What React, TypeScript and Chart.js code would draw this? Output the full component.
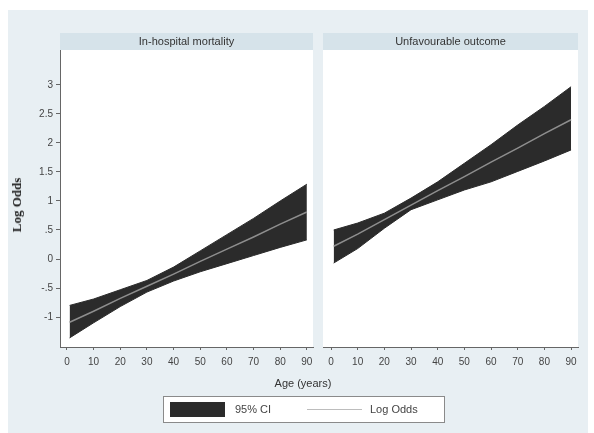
import React, { useEffect, useRef } from "react";
import { Chart, registerables } from "chart.js";
Chart.register(...registerables);

// ---- data ----
const ages = [1, 10, 20, 30, 40, 50, 60, 70, 80, 90];
const mortalityLogOdds = [-1.09, -0.9, -0.68, -0.47, -0.26, -0.04, 0.17, 0.38, 0.6, 0.81];
const mortalityUpper = [-0.8, -0.69, -0.53, -0.37, -0.14, 0.14, 0.42, 0.7, 1.0, 1.29];
const mortalityLower = [-1.36, -1.1, -0.82, -0.57, -0.38, -0.22, -0.08, 0.06, 0.2, 0.33];
const outcomeLogOdds = [0.22, 0.43, 0.68, 0.93, 1.18, 1.42, 1.67, 1.91, 2.16, 2.4];
const outcomeUpper = [0.5, 0.62, 0.79, 1.05, 1.33, 1.65, 1.97, 2.31, 2.63, 2.97];
const outcomeLower = [-0.07, 0.18, 0.53, 0.85, 1.02, 1.19, 1.33, 1.51, 1.69, 1.88];

const xTicks = [0, 10, 20, 30, 40, 50, 60, 70, 80, 90];
const yTicks = [-1, -0.5, 0, 0.5, 1, 1.5, 2, 2.5, 3];
const yTickLabels = ["-1", "-.5", "0", ".5", "1", "1.5", "2", "2.5", "3"];
const panelTitles = ["In-hospital mortality", "Unfavourable outcome"];
const legendLabels = ["95% CI", "Log Odds"];
const xTitle = "Age (years)";
const yTitle = "Log Odds";

const BAND = "#2b2b2b";
const LINE = "#8e8e8e";
const HEADER = "#d6e3ea";
const OUTER = "#e8eff3";
const AXIS = "#666666";
const TEXT = "#444444";
const SANS = "'Liberation Sans', Arial, sans-serif";

type PanelProps = {
  left: number;
  width: number;
  title: string;
  mid: number[];
  upper: number[];
  lower: number[];
  xMin: number;
  xMax: number;
  showY: boolean;
  padding: { left: number; right: number; top: number; bottom: number };
};

const toPts = (vals: number[]) => vals.map((v, i) => ({ x: ages[i], y: v }));

function Panel(p: PanelProps) {
  const ref = useRef<HTMLCanvasElement | null>(null);
  useEffect(() => {
    if (!ref.current) return;
    const panelPlugin = {
      id: "panelBg",
      beforeDraw(chart: any) {
        const { ctx, chartArea } = chart;
        ctx.save();
        ctx.fillStyle = "#ffffff";
        ctx.fillRect(chartArea.left, chartArea.top, chartArea.right - chartArea.left, chartArea.bottom - chartArea.top);
        ctx.fillStyle = HEADER;
        ctx.fillRect(chartArea.left, chartArea.top - 17, chartArea.right - chartArea.left, 17);
        ctx.fillStyle = "#333333";
        ctx.font = `11px ${SANS}`;
        ctx.textAlign = "center";
        ctx.textBaseline = "middle";
        ctx.fillText(p.title, (chartArea.left + chartArea.right) / 2, chartArea.top - 8.5);
        ctx.restore();
      },
    };
    const chart = new Chart(ref.current, {
      type: "line",
      data: {
        datasets: [
          {
            label: "upper",
            data: toPts(p.upper),
            borderColor: BAND,
            backgroundColor: BAND,
            borderWidth: 1,
            pointRadius: 0,
            fill: "+1",
            order: 1,
          },
          {
            label: "lower",
            data: toPts(p.lower),
            borderColor: BAND,
            backgroundColor: BAND,
            borderWidth: 1,
            pointRadius: 0,
            fill: false,
            order: 2,
          },
          {
            label: "mid",
            data: toPts(p.mid),
            borderColor: LINE,
            borderWidth: 1.5,
            pointRadius: 0,
            fill: false,
            order: 0,
          },
        ],
      },
      options: {
        responsive: false,
        animation: false,
        layout: { padding: p.padding },
        plugins: { legend: { display: false }, tooltip: { enabled: false } },
        scales: {
          x: {
            type: "linear",
            min: p.xMin,
            max: p.xMax,
            afterBuildTicks: (s: any) => {
              s.ticks = xTicks.map((v) => ({ value: v }));
            },
            afterFit: (s: any) => {
              s.height = 30;
              s.paddingLeft = 0;
              s.paddingRight = 0;
            },
            grid: { display: true, drawOnChartArea: false, drawTicks: true, tickLength: 3, color: AXIS },
            border: { display: true, color: AXIS, width: 1 },
            ticks: {
              padding: 6,
              maxRotation: 0,
              autoSkip: false,
              color: TEXT,
              font: { size: 10, family: SANS },
              callback: (v: any) => String(v),
            },
          },
          y: {
            type: "linear",
            display: p.showY,
            min: -1.517,
            max: 3.603,
            afterBuildTicks: (s: any) => {
              s.ticks = yTicks.map((v) => ({ value: v }));
            },
            afterFit: (s: any) => {
              if (p.showY) s.width = 60;
              s.paddingTop = 0;
              s.paddingBottom = 0;
            },
            grid: { display: true, drawOnChartArea: false, drawTicks: true, tickLength: 4, color: AXIS },
            border: { display: true, color: AXIS, width: 1 },
            ticks: {
              padding: 3,
              autoSkip: false,
              color: TEXT,
              font: { size: 10, family: SANS },
              callback: (v: any) => {
                const i = yTicks.indexOf(Number(v));
                return i >= 0 ? yTickLabels[i] : "";
              },
            },
          },
        },
      },
      plugins: [panelPlugin],
    });
    return () => chart.destroy();
  }, []);
  return (
    <canvas
      ref={ref}
      width={p.width}
      height={433}
      style={{ position: "absolute", left: p.left, top: 0, width: p.width, height: 433 }}
    />
  );
}

export default function App() {
  return (
    <div style={{ position: "absolute", left: 0, top: 0, width: 594, height: 433, background: "#ffffff", overflow: "hidden", fontFamily: SANS }}>
      <div style={{ position: "absolute", left: 8, top: 10, width: 580, height: 423, background: OUTER }} />
      <Panel
        left={0}
        width={316}
        title={panelTitles[0]}
        mid={mortalityLogOdds}
        upper={mortalityUpper}
        lower={mortalityLower}
        xMin={-2.6}
        xMax={92.3}
        showY={true}
        padding={{ left: 0, right: 3, top: 50, bottom: 56 }}
      />
      <Panel
        left={316}
        width={278}
        title={panelTitles[1]}
        mid={outcomeLogOdds}
        upper={outcomeUpper}
        lower={outcomeLower}
        xMin={-3}
        xMax={92.6}
        showY={false}
        padding={{ left: 7, right: 16, top: 50, bottom: 56 }}
      />
      <div
        style={{
          position: "absolute",
          left: 17,
          top: 205,
          transform: "translate(-50%, -50%) rotate(-90deg)",
          whiteSpace: "nowrap",
          fontFamily: "'Liberation Serif', 'Times New Roman', serif",
          fontWeight: "bold",
          fontSize: 13,
          color: "#222",
        }}
      >
        {yTitle}
      </div>
      <div
        style={{
          position: "absolute",
          left: 303,
          top: 383,
          transform: "translate(-50%, -50%)",
          whiteSpace: "nowrap",
          fontSize: 11,
          color: "#333",
        }}
      >
        {xTitle}
      </div>
      <div
        style={{
          position: "absolute",
          left: 163,
          top: 396,
          width: 280,
          height: 25,
          background: "#ffffff",
          border: "1px solid #8a8a8a",
        }}
      >
        <div style={{ position: "absolute", left: 6, top: 5, width: 55, height: 15, background: BAND }} />
        <div style={{ position: "absolute", left: 71, top: 6, fontSize: 11, color: "#444", lineHeight: "13px" }}>{legendLabels[0]}</div>
        <div style={{ position: "absolute", left: 143, top: 12, width: 55, height: 0, borderTop: "1.5px solid #bdbdbd" }} />
        <div style={{ position: "absolute", left: 206, top: 6, fontSize: 11, color: "#444", lineHeight: "13px" }}>{legendLabels[1]}</div>
      </div>
    </div>
  );
}
